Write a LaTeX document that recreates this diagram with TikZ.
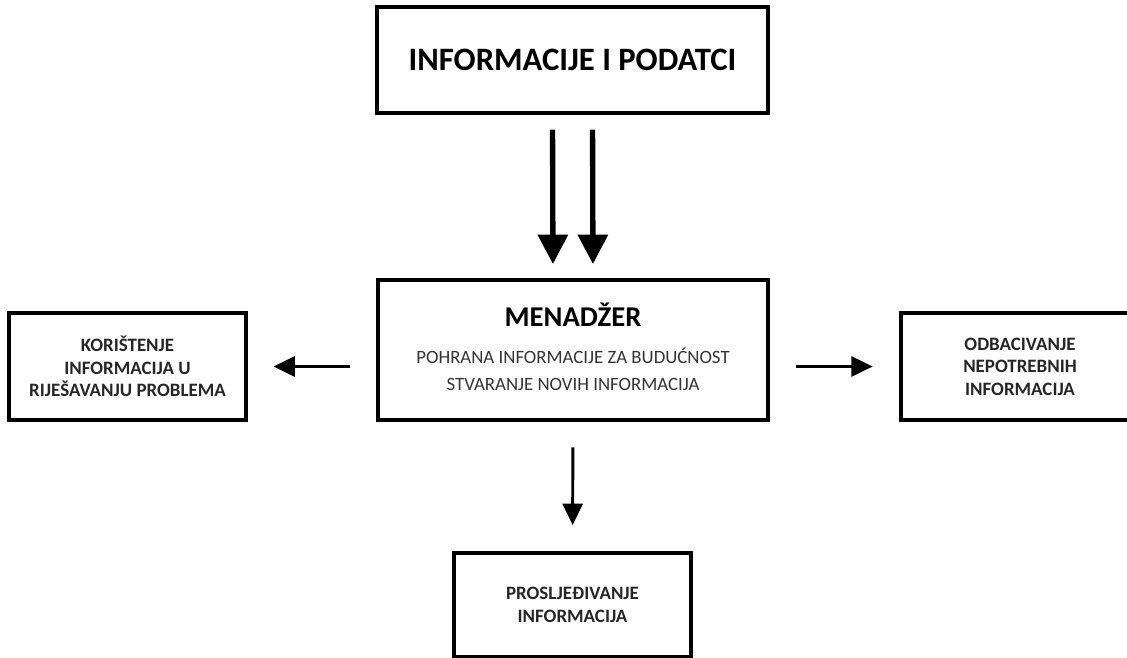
\documentclass[tikz,border=0pt]{standalone}
\usepackage{fontspec}
\setmainfont{Carlito}
\usetikzlibrary{arrows.meta}
\tikzset{
  bigbox/.style={draw,line width=3pt,inner sep=0pt,align=center,minimum width=293pt,font=\bfseries\fontsize{24.5}{25}\selectfont},
  smallbox/.style={draw,line width=3pt,inner sep=0pt,align=center,minimum width=178pt,minimum height=80pt,font=\bfseries\fontsize{14.2}{16.9}\selectfont,text=black!85},
  bigflow/.style={line width=4pt,-{Triangle[width=22pt,length=22pt]}},
  flow/.style={line width=2.2pt,-{Triangle[width=15pt,length=16pt]}}
}
\newcommand{\bodytext}{\mdseries\fontsize{14.1}{20.25}\selectfont\color{black!80}}
\begin{document}
\begin{tikzpicture}[x=0.75pt,y=-0.75pt]
      \useasboundingbox (0,0) rectangle (1127,657);
      \clip (0,0) rectangle (1127,657);
      \node[bigbox,minimum height=79.5pt] (info) at (572.5,60) {INFORMACIJE I PODATCI};
      \node[bigbox,minimum height=105pt,font=\bfseries\fontsize{21.5}{20.25}\selectfont] (manager) at (573,350) {MENADŽER\\[7.5pt]
        \bodytext POHRANA INFORMACIJE ZA BUDUĆNOST\\\bodytext STVARANJE NOVIH INFORMACIJA\\[-16pt]};
      \node[smallbox] (use) at (127.5,366.5) {KORIŠTENJE\\INFORMACIJA U\\RIJEŠAVANJU PROBLEMA};
      \node[smallbox] (discard) at (1020,366.5) {ODBACIVANJE\\NEPOTREBNIH\\INFORMACIJA};
      \node[smallbox,minimum height=78pt] (forward) at (572.5,605) {PROSLJEĐIVANJE\\INFORMACIJA};

      \draw[bigflow,shorten <=11pt,shorten >=10.5pt] ([xshift=-15pt]info.south) -- ([xshift=-15pt]manager.north);
      \draw[bigflow,shorten <=11pt,shorten >=10.5pt] ([xshift=15pt]info.south) -- ([xshift=15pt]manager.north);
      \draw[flow,shorten <=19pt,shorten >=19pt] (use.east -| manager.west) -- (use.east);
      \draw[flow,shorten <=19pt,shorten >=20pt] (discard.west -| manager.east) -- (discard.west);
      \draw[flow,shorten <=19pt,shorten >=19.5pt] (manager.south) -- (forward.north);
    \end{tikzpicture}
\end{document}
